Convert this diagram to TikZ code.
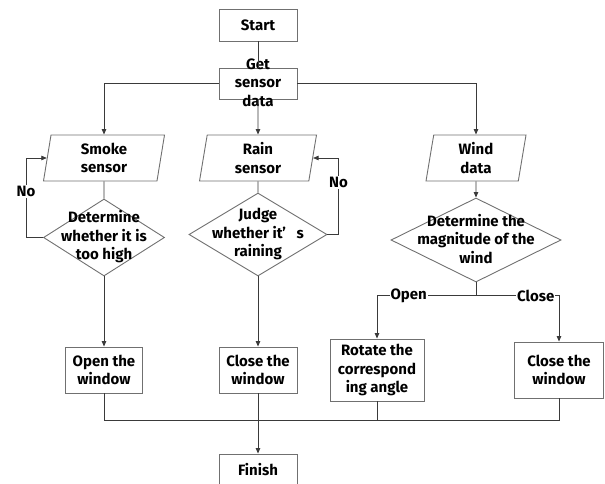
\documentclass[tikz,border=0pt]{standalone}
\usepackage{fontspec}
\setmainfont{Fira Sans}
\usetikzlibrary{shapes.geometric,arrows.meta}
\definecolor{bordc}{HTML}{707070}
\definecolor{linec}{HTML}{3A3A3A}
\begin{document}
\begin{tikzpicture}[x=1pt,y=-1pt,
  txt/.style={font=\bfseries\fontsize{15}{18.5}\selectfont, align=center, inner sep=0pt},
  box/.style={txt, rectangle, draw=bordc, line width=0.9pt},
  para/.style={txt, trapezium, trapezium left angle=76, trapezium right angle=104,
    trapezium stretches body, draw=bordc, line width=0.9pt, minimum height=46pt},
  dia/.style={diamond, draw=bordc, line width=0.9pt, inner sep=0pt},
  ln/.style={draw=linec, line width=0.8pt},
  arr/.style={ln, -{Triangle[length=5.5pt,width=4.5pt]}},
  lab/.style={txt, fill=white, inner sep=1pt}]
\useasboundingbox (0,0) rectangle (605,484);
% boxes
\node[box, minimum width=78pt, minimum height=32pt] (start) at (258,25) {Start};
\node[box, minimum width=78pt, minimum height=31pt] (get) at (258,83.5) {};
\node[txt] (gett) at (258,82.5) {Get\\sensor\\data};
\node[para, minimum width=121pt] (p1) at (104,158) {Smoke\\sensor};
\node[para, minimum width=117pt] (p2) at (258,158) {Rain\\sensor};
\node[para, minimum width=100pt] (p3) at (476,158) {Wind\\data};
\node[dia, minimum width=121pt, minimum height=77pt] (d1) at (104,237.5) {};
\node[txt] (d1t) at (104,237) {Determine\\whether it is\\too high};
\node[dia, minimum width=138pt, minimum height=83pt] (d2) at (258,234.5) {};
\node[txt] (d2t) at (258,234) {Judge\\whether it’\hspace{0.7em}s\\raining};
\node[dia, minimum width=170pt, minimum height=84pt] (d3) at (476,240) {};
\node[txt] (d3t) at (476,239) {Determine the\\magnitude of the\\wind};
\node[box, minimum width=77pt, minimum height=46pt] (ow) at (104,370) {Open the\\window};
\node[box, minimum width=78pt, minimum height=46pt] (cw) at (258,370) {Close the\\window};
\node[box, minimum width=94pt, minimum height=62pt] (rot) at (377,370) {Rotate the\\correspond\\ing angle};
\node[box, minimum width=89pt, minimum height=56pt] (cw2) at (559,370) {Close the\\window};
\node[box, minimum width=78pt, minimum height=32pt] (fin) at (258,470) {Finish};
% connectors
\draw[ln] (start) -- (get);
\draw[arr] (get.west) -| (p1.north);
\draw[arr] (get) -- (p2);
\draw[arr] (get.east) -| (p3.north);
\draw[ln] (p1) -- (d1);
\draw[ln] (p2) -- (d2);
\draw[arr] (p3) -- (d3);
\draw[arr] (d1) -- (ow);
\draw[arr] (d2) -- (cw);
\draw[arr] (d1.west) -- ++(-17,0) |- node[lab,pos=0.29]{No} (p1.west);
\draw[arr] (d2.east) -- ++(11,0) |- node[lab,pos=0.34]{No} (p2.east);
\draw[ln] (d3.south) -- ++(0,13) coordinate (br);
\draw[arr] (br) -| node[lab,pos=0.34]{Open} (rot.north);
\draw[arr] (br) -| node[lab,pos=0.36]{Close} (cw2.north);
\coordinate (j) at (258,420);
\draw[ln] (ow.south) |- (j);
\draw[ln] (rot.south) |- (j);
\draw[ln] (cw2.south) |- (j);
\draw[arr] (cw) -- (fin);
\end{tikzpicture}
\end{document}
